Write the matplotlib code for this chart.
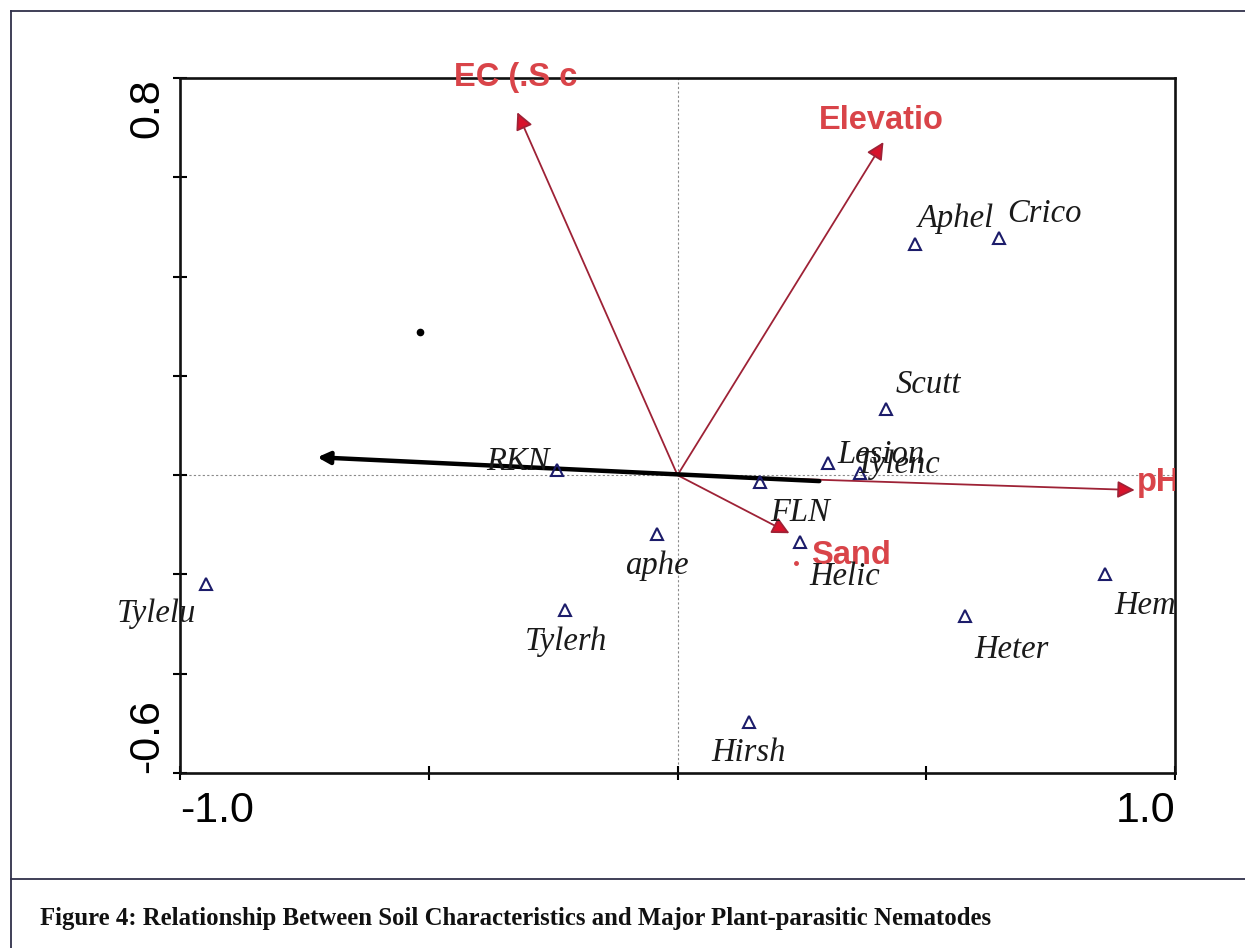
import matplotlib
matplotlib.use("Agg")
import matplotlib.pyplot as plt
from matplotlib.patches import FancyArrowPatch
from matplotlib.lines import Line2D

# ---------------- data ----------------
species = ["Aphel", "Crico", "Scutt", "Lesion", "Tylenc", "RKN", "FLN", "aphe",
           "Helic", "Tylelu", "Tylerh", "Hemi", "Heter", "Hirsh"]
sp_x = [0.478, 0.647, 0.420, 0.302, 0.366, -0.243, 0.165, -0.042,
        0.247, -0.947, -0.227, 0.860, 0.577, 0.143]
sp_y = [0.465, 0.477, 0.133, 0.024, 0.004, 0.010, -0.014, -0.119,
        -0.135, -0.220, -0.272, -0.199, -0.284, -0.497]

env_vars = ["EC (.S c", "Elevatio", "pH", "Sand"]
env_x = [-0.322, 0.414, 0.919, 0.225]
env_y = [0.731, 0.671, -0.030, -0.117]

black_arrow_start = (0.285, -0.012)
black_arrow_end = (-0.724, 0.036)
black_dot = (-0.517, 0.288)
red_dot = (0.239, -0.177)

x_ticks = [-1.0, -0.5, 0.0, 0.5, 1.0]
x_ticklabels = ["-1.0", "", "", "", "1.0"]
y_ticks = [-0.6, -0.4, -0.2, 0.0, 0.2, 0.4, 0.6, 0.8]
y_ticklabels = ["-0.6", "", "", "", "", "", "", "0.8"]

caption = "Figure 4: Relationship Between Soil Characteristics and Major Plant-parasitic Nematodes"

# ---------------- layout / style ----------------
sp_offsets = {  # pixel offsets of label centre from marker
    "Aphel": (41, 26), "Crico": (45, 25), "Scutt": (42, 24), "Lesion": (53, 8),
    "Tylenc": (39, 8), "RKN": (-39, 8), "FLN": (40, -31), "aphe": (0, -32),
    "Helic": (44, -35), "Tylelu": (-50, -29), "Tylerh": (1, -32),
    "Hemi": (9, -32), "Heter": (47, -34), "Hirsh": (0, -31),
}
env_offsets = {"EC (.S c": (-2, 35, "center"), "Elevatio": (-2, 22, "center"),
               "pH": (2, 8, "left"), "Sand": (22, -22, "left")}

W, H = 1245, 948
fig = plt.figure(figsize=(W / 100, H / 100), dpi=100)
fig.patch.set_facecolor("white")

# outer frame lines
frame_col = "#30304a"
fig.add_artist(Line2D([11 / W, 11 / W], [0, 1 - 11 / H], color=frame_col, lw=1.3))
fig.add_artist(Line2D([11 / W, 1], [1 - 11 / H, 1 - 11 / H], color=frame_col, lw=1.3))
fig.add_artist(Line2D([11 / W, 1], [1 - 879 / H, 1 - 879 / H], color=frame_col, lw=1.3))

ax = fig.add_axes([180 / W, 1 - 773 / H, (1175 - 180) / W, (773 - 78) / H])
ax.set_xlim(-1.0, 1.0)
ax.set_ylim(-0.6, 0.8)

for s in ax.spines.values():
    s.set_linewidth(1.9)
    s.set_color("#111111")

ax.set_xticks(x_ticks)
ax.set_xticklabels(x_ticklabels, fontsize=31, family="Liberation Sans")
ax.set_yticks(y_ticks)
ax.set_yticklabels(y_ticklabels, fontsize=31, family="Liberation Sans",
                   rotation=90)
ax.tick_params(direction="inout", length=10, width=1.5, pad=8)
xt = ax.get_xticklabels()
xt[0].set_ha("left")
xt[-1].set_ha("right")
yt = ax.get_yticklabels()
yt[0].set_va("bottom")
yt[-1].set_va("top")
ax.tick_params(axis="y", pad=4)

# dotted zero lines
ax.axhline(0, color="#8a8a8a", lw=0.8, ls=(0, (2, 2)), zorder=1)
ax.axvline(0, color="#8a8a8a", lw=0.8, ls=(0, (2, 2)), zorder=1)

# red environmental arrows
for name, ex, ey in zip(env_vars, env_x, env_y):
    arr = FancyArrowPatch((0, 0), (ex, ey), arrowstyle="-|>", mutation_scale=26,
                          lw=1.3, edgecolor="#9e2236", facecolor="#d8122b",
                          zorder=3, shrinkA=0, shrinkB=0)
    ax.add_patch(arr)
    dx, dy, ha = env_offsets[name]
    ax.annotate(name, (ex, ey), xytext=(dx, dy), textcoords="offset pixels",
                ha=ha, va="center", fontsize=23.5, fontweight="bold",
                family="Liberation Sans", color="#d94449", zorder=5,
                annotation_clip=False, clip_on=(name == "pH"))

# black arrow
ax.add_patch(FancyArrowPatch(black_arrow_start, black_arrow_end,
                             arrowstyle="-|>", mutation_scale=18, lw=3.2,
                             color="black", zorder=4, shrinkA=0, shrinkB=0))
ax.plot([black_dot[0]], [black_dot[1]], "o", color="black", ms=4.5, zorder=4)
ax.plot([red_dot[0]], [red_dot[1]], "o", color="#d94449", ms=2.5, zorder=4)

# species triangles
ax.plot(sp_x, sp_y, linestyle="none", marker="^", ms=9, mfc="none",
        mec="#1c1c6a", mew=1.5, zorder=5)
for name, x, y in zip(species, sp_x, sp_y):
    dx, dy = sp_offsets[name]
    ha = "left" if name == "Hemi" else "center"
    ax.annotate(name, (x, y), xytext=(dx, dy), textcoords="offset pixels",
                ha=ha, va="center", fontsize=23.5, style="italic",
                family="Liberation Serif", color="#1a1a1a", zorder=6,
                annotation_clip=False, clip_on=(name == "Hemi"))

fig.text(40 / W, 1 - 918 / H, caption, ha="left", va="center", fontsize=17.8,
         fontweight="bold", family="Liberation Serif", color="#111111")

fig.savefig("out.png", dpi=100, facecolor="white")
